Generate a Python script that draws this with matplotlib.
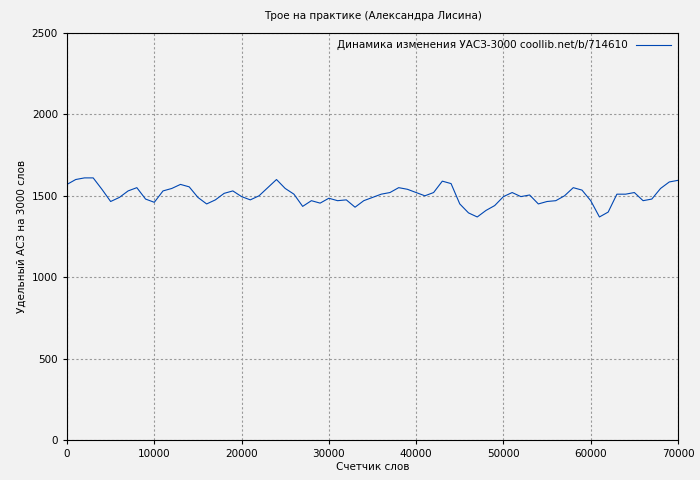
import matplotlib
matplotlib.use('Agg')
import matplotlib.pyplot as plt

words = list(range(0, 70001, 1000))
values = [1570,1600,1610,1610,1540,1465,1490,1530,1550,1480,1460,1530,1545,1570,1555,1490,1450,1475,1515,1530,
          1495,1475,1500,1550,1600,1545,1510,1435,1470,1455,1485,1470,1475,1430,1470,1490,1510,1520,1550,1540,
          1520,1500,1520,1590,1575,1450,1395,1370,1410,1440,1495,1520,1495,1505,1450,1465,1470,1500,1550,1535,
          1470,1370,1400,1510,1510,1520,1470,1480,1545,1585,1595]

bg = '#f2f2f2'
fig = plt.figure(figsize=(7, 4.8), dpi=100, facecolor=bg)
ax = fig.add_axes([67/700, 40/480, 611/700, 407/480], facecolor=bg)
ax.plot(words, values, color='#0047b3', lw=0.8, label='Динамика изменения УАСЗ-3000 coollib.net/b/714610')
ax.set_xlim(0, 70000)
ax.set_ylim(0, 2500)
ax.set_xticks(range(0, 70001, 10000))
ax.set_yticks(range(0, 2501, 500))
ax.grid(True, color='#999999', linestyle=(0, (2, 2)), lw=0.8)
ax.tick_params(labelsize=7.5, length=3)
ax.set_xlabel('Счетчик слов', fontsize=7.5, labelpad=2)
ax.set_ylabel('Удельный АСЗ на 3000 слов', fontsize=7.5)
ax.set_title('Трое на практике (Александра Лисина)', fontsize=7.5, pad=10)
ax.legend(loc='upper right', fontsize=7.5, frameon=False, markerfirst=False,
          borderaxespad=0.3, handlelength=3.3)
fig.savefig('out.png', dpi=100, facecolor=bg)
